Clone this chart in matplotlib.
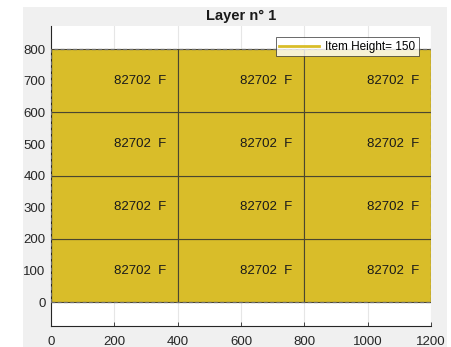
import matplotlib.pyplot as plt
from matplotlib.patches import Rectangle

# pallet layout: one layer, 3 x 4 items
title = "Layer n° 1"
item_label = "82702  F"
item_height = 150
item_w = 400
item_d = 200
col_x = [0, 400, 800]
row_y = [0, 200, 400, 600]
pallet_w = 1200
pallet_d = 800
xticks = [0, 200, 400, 600, 800, 1000, 1200]
yticks = [0, 100, 200, 300, 400, 500, 600, 700, 800]

fill = "#d9bd29"
txt = "#262626"

plt.rcParams["font.family"] = ["Liberation Sans", "DejaVu Sans"]

fig = plt.figure(figsize=(4.52, 3.47), dpi=100, facecolor="white")
# grey window background
fig.patches.append(Rectangle((23 / 452, 0), (447 - 23) / 452, 340 / 347,
                             transform=fig.transFigure, facecolor="#f0f0f0",
                             edgecolor="none", zorder=-10))

ax = fig.add_axes([51 / 452, 21 / 347, 380 / 452, 300 / 347])
ax.set_facecolor("white")
ax.set_xlim(0, 1200)
ax.set_ylim(-75, 873)

ax.set_xticks(xticks)
ax.set_yticks(yticks)
ax.grid(True, color="#e6e6e6", lw=0.8, zorder=0)
ax.set_axisbelow(True)

for x in col_x:
    for y in row_y:
        ax.add_patch(Rectangle((x, y), item_w, item_d, facecolor=fill,
                               edgecolor="#4a4630", lw=0.8, zorder=2))
        ax.text(x + 280, y + item_d / 2, item_label, ha="center", va="center",
                fontsize=9.5, color="#1a1a1a", zorder=3)

# pallet outline
ax.add_patch(Rectangle((0, 0), pallet_w, pallet_d, facecolor="none",
                       edgecolor="#6e6e6e", lw=0.9, ls=(0, (3, 2)), zorder=4))

ax.plot([], [], color=fill, lw=2, label=f"Item Height= {item_height}")
leg = ax.legend(loc="upper right", bbox_to_anchor=(0.968, 0.963), fontsize=8.5,
                frameon=True, fancybox=False, borderpad=0.3, handlelength=3.4,
                handletextpad=0.5, borderaxespad=0)
leg.get_frame().set_edgecolor("#262626")
leg.get_frame().set_linewidth(0.6)
leg.set_zorder(6)

for s in ["top", "right"]:
    ax.spines[s].set_visible(False)
for s in ["left", "bottom"]:
    ax.spines[s].set_color(txt)
    ax.spines[s].set_linewidth(0.8)
ax.tick_params(direction="in", length=3, width=0.6, colors=txt,
               labelsize=9.5, labelcolor=txt)
ax.tick_params(axis="x", pad=7)
ax.tick_params(axis="y", pad=4)

ax.set_title(title, fontsize=10.5, fontweight="bold", color="#1a1a1a", pad=4)

fig.savefig("out.png", dpi=100, facecolor=fig.get_facecolor())
